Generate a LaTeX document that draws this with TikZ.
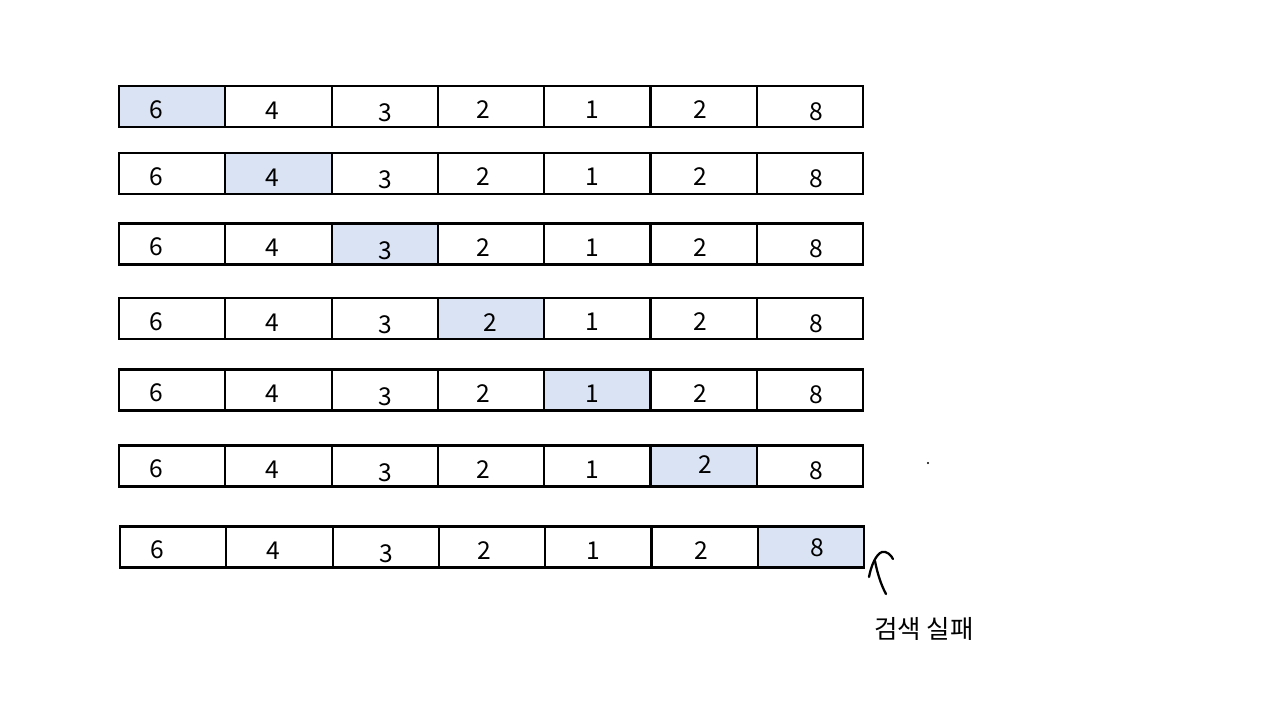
\documentclass[tikz,border=0pt]{standalone}
\usepackage{fontspec}
\setmainfont{Noto Sans CJK KR}
\usetikzlibrary{positioning}
\definecolor{hlBlue}{RGB}{218,227,243}

\begin{document}
\begin{tikzpicture}[
    x=0.02cm, y=-0.02cm,
    cell/.style={draw, line width=1.2pt, minimum width=2.126cm, minimum height=0.82cm, inner sep=0pt, outer sep=0pt},
    num/.style={font=\fontsize{14}{14}\selectfont, inner sep=0pt},
    pen/.style={line width=1.3pt, line cap=round},
]
% Canvas
\fill[white] (0,0) rectangle (1280,720);
\useasboundingbox (0,0) rectangle (1280,720);

% Rows of the search, one highlighted cell per row
\foreach \r/\top/\sx in {1/86/0, 2/153/0, 3/223.5/0, 4/298/0, 5/369.5/0, 6/445.5/0, 7/526.5/1}{
  \foreach \k/\v/\dx/\dy in {1/6/-15.5/3, 2/4/-6.5/4, 3/3/1/6.5, 4/2/-7.5/3.5, 5/1/-5/3.5, 6/2/-3.5/3.5, 7/8/6.5/5}{
    \ifnum\k=\r \def\fc{hlBlue}\else\def\fc{white}\fi
    \def\ddx{\dx}\def\ddy{\dy}
    \ifnum\r\k=44 \def\ddx{-1}\def\ddy{4.5}\fi
    \ifnum\r\k=66 \def\ddx{1.5}\def\ddy{-1}\fi
    \ifnum\r\k=77 \def\ddx{6}\def\ddy{0.5}\fi
    \node[cell, fill=\fc] (c\r-\k) at ({119+53.15+(\k-1)*106.3+\sx}, \top+20.5) {};
    \node[num] (n\r-\k) at ([xshift={(\ddx)*0.02cm}, yshift={-(\ddy)*0.02cm}]c\r-\k.center) {\v};
  }
}

% Stray dot
\fill (928,463) circle (1.1);

% Hand-drawn mark and caption
\draw[pen] (869,577) .. controls (871,566) and (876,554) .. (882,552) .. controls (887,551) and (891,555) .. (893,559);
\draw[pen] (875,561) .. controls (877,572) and (881,585) .. (886,594);
\node[font=\fontsize{14.5}{14.5}\selectfont, inner sep=0pt] (fail) at (924,629) {검색 실패};
\end{tikzpicture}
\end{document}
